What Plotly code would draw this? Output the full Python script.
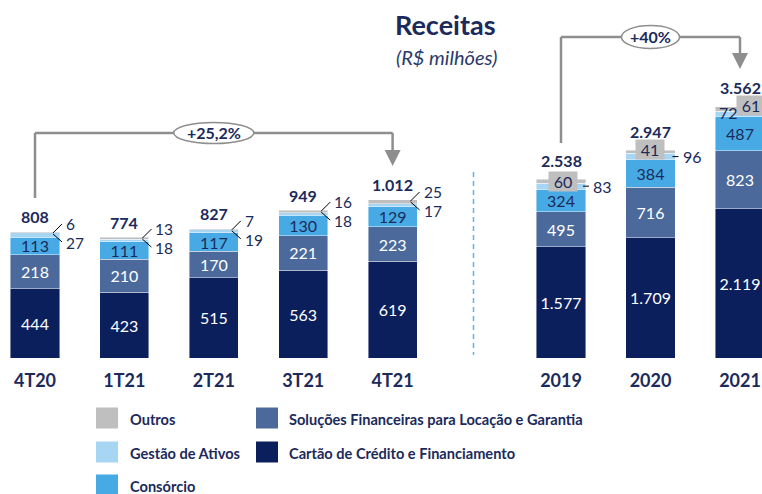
import plotly.graph_objects as go

# ---------------- data ----------------
quarters = ["4T20", "1T21", "2T21", "3T21", "4T21"]
q_cartao = [444, 423, 515, 563, 619]
q_solucoes = [218, 210, 170, 221, 223]
q_consorcio = [113, 111, 117, 130, 129]
q_gestao = [27, 18, 19, 18, 17]
q_outros = [6, 13, 7, 16, 25]
q_total = [808, 774, 827, 949, 1012]

years = ["2019", "2020", "2021"]
y_cartao = [1577, 1709, 2119]
y_solucoes = [495, 716, 823]
y_consorcio = [324, 384, 487]
y_gestao = [83, 96, 72]
y_outros = [60, 41, 61]
y_total = [2538, 2947, 3562]

growth_q = "+25,2%"
growth_y = "+40%"

title_text = "Receitas"
subtitle_text = "(R$ milhões)"

series_names = ["Cartão de Crédito e Financiamento",
                "Soluções Financeiras para Locação e Garantia",
                "Consórcio", "Gestão de Ativos", "Outros"]
colors = ["#0B1F5C", "#4B6A9B", "#47AAE4", "#A7D5F4", "#BFBFBF"]

NAVY = "#1B2A5B"
FONT = "Lato"
W, H = 762, 494


def fmt(v):
    return f"{v:,}".replace(",", ".")


def px(x):
    return x / W


def py(y):
    return 1 - y / H


fig = go.Figure()

# ---------------- bars ----------------
q_series = [q_cartao, q_solucoes, q_consorcio, q_gestao, q_outros]
y_series = [y_cartao, y_solucoes, y_consorcio, y_gestao, y_outros]
text_colors = ["white", "white", NAVY, NAVY, NAVY]

for series, cats, xa, ya in [(q_series, quarters, "x", "y"),
                             (y_series, years, "x2", "y2")]:
    for k, vals in enumerate(series):
        show_text = k < 3
        fig.add_trace(go.Bar(
            x=list(range(len(cats))), y=vals, xaxis=xa, yaxis=ya,
            name=series_names[k], showlegend=False,
            width=0.55,
            marker=dict(color=colors[k], line=dict(color="rgba(255,255,255,0.55)", width=0.8)),
            texttemplate="%{y:,}" if show_text else None,
            textposition="inside" if show_text else "none",
            insidetextanchor="middle",
            textangle=0,
            constraintext="none",
            textfont=dict(family=FONT, size=16, color=text_colors[k]),
            hoverinfo="skip",
        ))

annotations = []
shapes = []


def ann(**kw):
    kw.setdefault("showarrow", False)
    kw.setdefault("xanchor", "center")
    kw.setdefault("yanchor", "middle")
    annotations.append(kw)


# quarterly totals + small labels
for i, t in enumerate(q_total):
    top = q_cartao[i] + q_solucoes[i] + q_consorcio[i] + q_gestao[i] + q_outros[i]
    ann(x=i, y=top, xref="x", yref="y", text=fmt(t), yshift=15,
        font=dict(family=FONT, size=16, color=NAVY, weight="bold"))
    ann(x=i, y=top, xref="x", yref="y", text=str(q_outros[i]), xanchor="left", xshift=29, yshift=8,
        font=dict(family=FONT, size=15.5, color=NAVY))
    ann(x=i, y=top, xref="x", yref="y", text=str(q_gestao[i]), xanchor="left", xshift=29, yshift=-11,
        font=dict(family=FONT, size=15.5, color=NAVY))
    shapes.append(dict(type="line", xref="x", yref="y", xsizemode="pixel", ysizemode="pixel",
                       xanchor=i, yanchor=top, x0=18, y0=-1, x1=27, y1=8,
                       line=dict(color="black", width=1)))
    shapes.append(dict(type="line", xref="x", yref="y", xsizemode="pixel", ysizemode="pixel",
                       xanchor=i, yanchor=top, x0=18, y0=-2, x1=27, y1=-10,
                       line=dict(color="black", width=1)))

# yearly totals + labels
outros_shift = [(2, -2), (-1, 1), (11, 1)]
for i, t in enumerate(y_total):
    top = y_cartao[i] + y_solucoes[i] + y_consorcio[i] + y_gestao[i] + y_outros[i]
    ann(x=i, y=top, xref="x2", yref="y2", text=fmt(t), yshift=19,
        font=dict(family=FONT, size=16, color=NAVY, weight="bold"))
    sx, sy = outros_shift[i]
    ann(x=i, y=top, xref="x2", yref="y2", text=str(y_outros[i]),
        xshift=sx, yshift=sy, bgcolor="#BFBFBF", width=26, height=17,
        font=dict(family=FONT, size=16, color=NAVY))
    if i < 2:
        gmid = y_cartao[i] + y_solucoes[i] + y_consorcio[i] + y_gestao[i] / 2
        ann(x=i, y=gmid, xref="x2", yref="y2", text=str(y_gestao[i]), xanchor="left", xshift=30,
            font=dict(family=FONT, size=16, color=NAVY))
        shapes.append(dict(type="line", xref="x2", yref="y2", xsizemode="pixel", ysizemode="pixel",
                           xanchor=i, yanchor=gmid, x0=22, y0=0, x1=28, y1=0,
                           line=dict(color="black", width=1)))
    else:
        ann(x=i, y=top, xref="x2", yref="y2", text=str(y_gestao[i]), xshift=-12, yshift=-6,
            font=dict(family=FONT, size=16, color=NAVY))

# ---------------- growth callouts ----------------
GRAY = "#8E8E8E"


def callout(xref, x_start, x_end, y_start_px, y_line_px, y_arrow_px, label, ell_w, ell_h):
    shapes.append(dict(type="line", xref=xref, yref="paper", x0=x_start, x1=x_start,
                       y0=py(y_start_px), y1=py(y_line_px), line=dict(color=GRAY, width=2.5)))
    shapes.append(dict(type="line", xref=xref, yref="paper", x0=x_start, x1=x_end,
                       y0=py(y_line_px), y1=py(y_line_px), line=dict(color=GRAY, width=2.5)))
    shapes.append(dict(type="line", xref=xref, yref="paper", x0=x_end, x1=x_end,
                       y0=py(y_line_px), y1=py(y_arrow_px), line=dict(color=GRAY, width=2.5)))
    shapes.append(dict(type="path", xref=xref, yref="paper", xsizemode="pixel", ysizemode="pixel",
                       xanchor=x_end, yanchor=py(y_arrow_px),
                       path="M-8,0 L8,0 L0,-16 Z", fillcolor=GRAY, line=dict(width=0)))
    xm = (x_start + x_end) / 2
    shapes.append(dict(type="circle", xref=xref, yref="paper", xsizemode="pixel", ysizemode="pixel",
                       xanchor=xm, yanchor=py(y_line_px), x0=-ell_w / 2, x1=ell_w / 2,
                       y0=-ell_h / 2, y1=ell_h / 2, fillcolor="white",
                       line=dict(color=GRAY, width=1.5)))
    ann(x=xm, y=py(y_line_px), xref=xref, yref="paper", text=label,
        font=dict(family=FONT, size=16, color=NAVY, weight="bold"))


callout("x", 0, len(quarters) - 1, 198, 133, 150, growth_q, 80, 21)
callout("x2", 0, len(years) - 1, 143, 37, 53, growth_y, 58, 23)

# separator
shapes.append(dict(type="line", xref="paper", yref="paper", x0=px(473.5), x1=px(473.5),
                   y0=py(172), y1=py(355), line=dict(color="#5DB4EC", width=1.5, dash="5px,4px")))

# ---------------- title ----------------
ann(x=px(445), y=py(25), xref="paper", yref="paper", text=title_text,
    font=dict(family=FONT, size=27, color=NAVY, weight="bold"))
ann(x=px(446), y=py(57), xref="paper", yref="paper", text=f"<i>{subtitle_text}</i>",
    font=dict(family=FONT, size=20, color="#2A3A6A"))

# ---------------- legend ----------------
legend_items = [(4, 0, 0), (3, 0, 1), (2, 0, 2), (1, 1, 0), (0, 1, 1)]
col_sq = [96, 256]
col_tx = [128, 287]
row_c = [418, 452, 485]
for k, c, r in legend_items:
    shapes.append(dict(type="rect", xref="paper", yref="paper",
                       x0=px(col_sq[c]), x1=px(col_sq[c] + 22),
                       y0=py(row_c[r] - 10.5), y1=py(row_c[r] + 10.5),
                       fillcolor=colors[k], line=dict(width=0)))
    ann(x=px(col_tx[c]), y=py(row_c[r] + 1), xref="paper", yref="paper",
        text=series_names[k], xanchor="left",
        font=dict(family=FONT, size=14.6, color=NAVY, weight="bold"))

# ---------------- axes ----------------
q_sp = 89.4
y_sp = 89.5
base_px = 136
q_scale = 0.156
yr_scale = 0.0705

fig.update_layout(
    width=W, height=H, margin=dict(l=0, r=0, t=0, b=0),
    paper_bgcolor="white", plot_bgcolor="rgba(0,0,0,0)",
    barmode="stack", separators=",.",
    font=dict(family=FONT, color=NAVY),
    xaxis=dict(domain=[0, 460 / W], range=[-35 / q_sp, -35 / q_sp + 460 / q_sp],
               tickvals=list(range(len(quarters))), ticktext=quarters,
               anchor="free", position=base_px / H, showgrid=False, zeroline=False,
               showline=False, ticks="", ticklabelstandoff=10,
               tickfont=dict(family=FONT, size=18, color=NAVY, weight="bold")),
    yaxis=dict(domain=[0, 1], range=[-base_px / q_scale, -base_px / q_scale + H / q_scale],
               visible=False, anchor="x"),
    xaxis2=dict(domain=[480 / W, 1], range=[-(561 - 480) / y_sp, -(561 - 480) / y_sp + 282 / y_sp],
                tickvals=list(range(len(years))), ticktext=years,
                anchor="free", position=base_px / H, showgrid=False, zeroline=False,
                showline=False, ticks="", ticklabelstandoff=10,
                tickfont=dict(family=FONT, size=18, color=NAVY, weight="bold")),
    yaxis2=dict(domain=[0, 1], range=[-base_px / yr_scale, -base_px / yr_scale + H / yr_scale],
                visible=False, anchor="x2"),
    annotations=annotations, shapes=shapes, showlegend=False,
    hovermode=False,
)

fig.write_html("out.html", config={"displayModeBar": False, "staticPlot": True},
               post_script="document.body.style.margin='0';document.body.style.overflow='hidden';")
